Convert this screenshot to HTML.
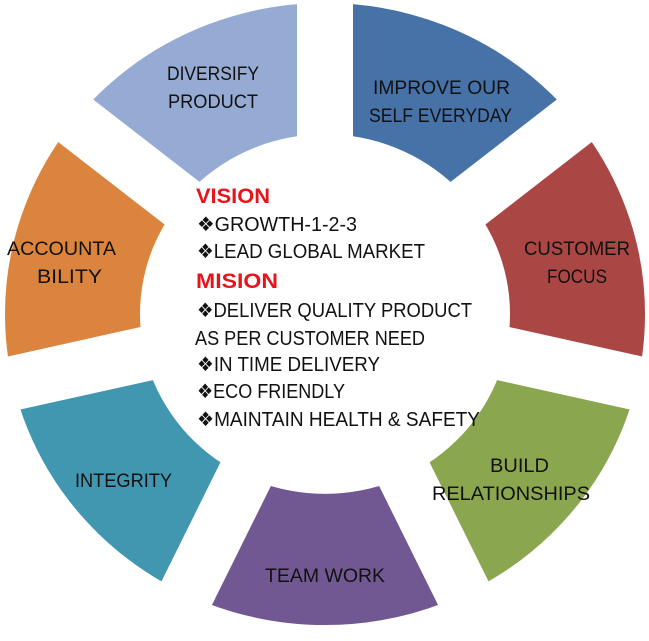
<!DOCTYPE html>
<html><head><meta charset="utf-8"><style>
html,body{margin:0;padding:0;background:#fff;}
svg{display:block;}
text{font-family:"Liberation Sans",sans-serif;}
</style></head><body>
<svg width="649" height="641" viewBox="0 0 649 641" xmlns="http://www.w3.org/2000/svg">
<g transform="translate(325,314) scale(1,0.972)">
  <path d="M0,0 L0,-340 A340,340 0 0 1 265.8,-212 Z" fill="#4672a8"/>
  <path d="M0,0 L265.8,-212 A340,340 0 0 1 331.5,75.7 Z" fill="#aa4644"/>
  <path d="M0,0 L331.5,75.7 A340,340 0 0 1 147.5,306.3 Z" fill="#8aa64e"/>
  <path d="M0,0 L147.5,306.3 A340,340 0 0 1 -147.5,306.3 Z" fill="#715893"/>
  <path d="M0,0 L-147.5,306.3 A340,340 0 0 1 -331.5,75.7 Z" fill="#4197b0"/>
  <path d="M0,0 L-331.5,75.7 A340,340 0 0 1 -265.8,-212 Z" fill="#db843d"/>
  <path d="M0,0 L-265.8,-212 A340,340 0 0 1 0,-340 Z" fill="#95abd3"/>
  <circle r="340" fill="none" stroke="#fff" stroke-width="40"/>
  <g fill="#fff">
    <rect x="-28" y="-360" width="56" height="360" transform="rotate(0)"/>
    <rect x="-28" y="-360" width="56" height="360" transform="rotate(51.43)"/>
    <rect x="-28" y="-360" width="56" height="360" transform="rotate(102.86)"/>
    <rect x="-28" y="-360" width="56" height="360" transform="rotate(154.29)"/>
    <rect x="-28" y="-360" width="56" height="360" transform="rotate(205.71)"/>
    <rect x="-28" y="-360" width="56" height="360" transform="rotate(257.14)"/>
    <rect x="-28" y="-360" width="56" height="360" transform="rotate(308.57)"/>
  </g>
  <circle r="185" fill="#fff"/>
</g>
<g font-size="19" fill="#111" lengthAdjust="spacingAndGlyphs">
  <text x="167" y="80" textLength="92" lengthAdjust="spacingAndGlyphs">DIVERSIFY</text>
  <text x="168" y="108" textLength="90" lengthAdjust="spacingAndGlyphs">PRODUCT</text>
  <text x="373" y="94" textLength="137" lengthAdjust="spacingAndGlyphs">IMPROVE OUR</text>
  <text x="369" y="122" textLength="143" lengthAdjust="spacingAndGlyphs">SELF EVERYDAY</text>
  <text x="524" y="255" textLength="106" lengthAdjust="spacingAndGlyphs">CUSTOMER</text>
  <text x="547" y="283" textLength="60" lengthAdjust="spacingAndGlyphs">FOCUS</text>
  <text x="490" y="472" textLength="59" lengthAdjust="spacingAndGlyphs">BUILD</text>
  <text x="432" y="500" textLength="158" lengthAdjust="spacingAndGlyphs">RELATIONSHIPS</text>
  <text x="265" y="582" textLength="120" lengthAdjust="spacingAndGlyphs">TEAM WORK</text>
  <text x="75" y="487" textLength="97" lengthAdjust="spacingAndGlyphs">INTEGRITY</text>
  <text x="7" y="255" textLength="109" lengthAdjust="spacingAndGlyphs">ACCOUNTA</text>
  <text x="37" y="283" textLength="65" lengthAdjust="spacingAndGlyphs">BILITY</text>
</g>
<g font-size="20" fill="#111">
  <text x="196" y="203" fill="#e8141c" font-weight="bold" font-size="21" textLength="74" lengthAdjust="spacingAndGlyphs">VISION</text>
  <text x="197" y="231" textLength="160" lengthAdjust="spacingAndGlyphs">❖GROWTH-1-2-3</text>
  <text x="197" y="258" textLength="228" lengthAdjust="spacingAndGlyphs">❖LEAD GLOBAL MARKET</text>
  <text x="196" y="288" fill="#e8141c" font-weight="bold" font-size="21" textLength="82" lengthAdjust="spacingAndGlyphs">MISION</text>
  <text x="197" y="317" textLength="275" lengthAdjust="spacingAndGlyphs">❖DELIVER QUALITY PRODUCT</text>
  <text x="195" y="345" textLength="230" lengthAdjust="spacingAndGlyphs">AS PER CUSTOMER NEED</text>
  <text x="197" y="371" textLength="183" lengthAdjust="spacingAndGlyphs">❖IN TIME DELIVERY</text>
  <text x="197" y="398" textLength="148" lengthAdjust="spacingAndGlyphs">❖ECO FRIENDLY</text>
  <text x="197" y="426" textLength="283" lengthAdjust="spacingAndGlyphs">❖MAINTAIN HEALTH &amp; SAFETY</text>
</g>
</svg>
</body></html>
